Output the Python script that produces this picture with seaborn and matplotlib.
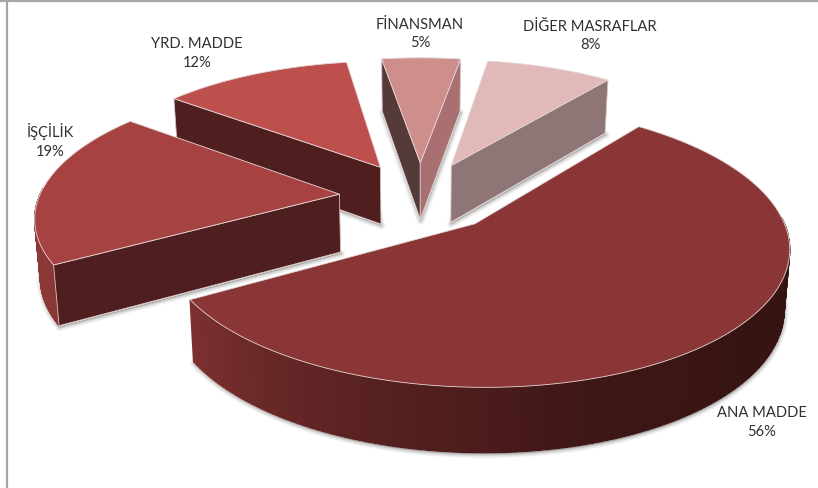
import numpy as np
import matplotlib
matplotlib.use('Agg')
import matplotlib.pyplot as plt
import seaborn as sns

# degerler
labels = ['ANA MADDE', 'İŞÇİLİK', 'YRD. MADDE', 'FİNANSMAN', 'DİĞER MASRAFLAR']
shares = [56, 19, 12, 5, 8]

# renkler
top_colors = ['#8B3636', '#A64342', '#BD4F4C', '#CD8E8C', '#E0B9B8']
wall_colors = [
    ['#7D3030', '#5A2222', '#3E1715', '#351412', '#351412'],
    ['#8F3A39', '#8A3837'],
    ['#4F1E1E', '#4F1E1E'],
    ['#553A3A', '#553A3A'],
    ['#8E7676', '#8E7676'],
]
# kesit yuzleri: baslangic ve bitis kenari
cut_colors = [
    ['#4F1E1E', '#4F1E1E'],
    ['#4F1E1E', '#4F1E1E'],
    ['#4F1E1E', '#4F1E1E'],
    ['#553A3A', '#A87070'],
    ['#8E7676', '#8E7676'],
]
label_pos = [(762, 422.5), (50, 141), (197, 53.5), (420, 34), (590, 36)]

# izdusum ayarlari (piksel)
CX, CY = 420, 196.5
RX, RY = 300, 130
PERSP = 0.15
EXPLODE = 0.27
DEPTH = 58
BOTTOM_SCALE = 0.985
START_ANGLE = 52


def project(u, v, bottom=False):
    u, v = np.asarray(u, dtype=float), np.asarray(v, dtype=float)
    denom = 1 + PERSP * v
    x = RX * u / denom
    y = CY - RY * v / denom
    if bottom:
        x = x * BOTTOM_SCALE
        y = y + DEPTH / denom ** 0.6
    return CX + x, y


def quad(ax, x1, y1, x2, y2, color, edge=None, zorder=2):
    ax.fill([x1[0], x1[1], x2[1], x2[0]], [y1[0], y1[1], y2[1], y2[0]],
            facecolor=color, edgecolor=edge if edge else color,
            linewidth=0.6 if edge else 1.0, zorder=zorder)


def draw_slice(ax, i, a0, a1):
    # a0 > a1, saat yonunde
    mid = np.radians((a0 + a1) / 2)
    ox, oy = EXPLODE * np.cos(mid), EXPLODE * np.sin(mid)
    theta = np.radians(np.linspace(a0, a1, 160))
    u = ox + np.cos(theta)
    v = oy + np.sin(theta)

    top_u = np.r_[ox, u]
    top_v = np.r_[oy, v]
    tx, ty = project(top_u, top_v)
    bx, by = project(top_u, top_v, bottom=True)

    # golge
    for lw, alpha in [(6, 0.05), (4.5, 0.07), (3, 0.10), (1.5, 0.14)]:
        ax.fill(bx + 0.5, by + 1.5, facecolor='#555555', edgecolor='#555555',
                linewidth=lw, alpha=alpha, zorder=1, joinstyle='round')
    ax.fill(bx, by, color='white', zorder=1)

    # dis duvar
    visible = np.where(np.sin(theta) < 0.05)[0]
    if len(visible) > 1:
        sx, sy = project(u, v)
        ex, ey = project(u, v, bottom=True)
        pal = sns.blend_palette(wall_colors[i], n_colors=len(visible))
        order = visible if sx[visible[0]] < sx[visible[-1]] else visible[::-1]
        for n, (j, j2) in enumerate(zip(order[:-1], order[1:])):
            quad(ax, sx[[j, j2]], sy[[j, j2]], ex[[j, j2]], ey[[j, j2]], pal[n])

    # kesit yuzleri
    for k, (angle, normal) in enumerate([(a0, a0 + 90), (a1, a1 - 90)]):
        if np.sin(np.radians(normal)) < 0:
            eu = [ox, ox + np.cos(np.radians(angle))]
            ev = [oy, oy + np.sin(np.radians(angle))]
            x1, y1 = project(eu, ev)
            x2, y2 = project(eu, ev, bottom=True)
            quad(ax, x1, y1, x2, y2, cut_colors[i][k], edge='#D8C4C4')

    # ust yuz
    ax.fill(tx, ty, facecolor=top_colors[i], edgecolor='#E6D6D6', linewidth=0.6,
            zorder=3, joinstyle='round')


def main():
    sns.set_theme(style='white')
    plt.rcParams['font.family'] = ['Lato', 'DejaVu Sans']

    fig, ax = plt.subplots(figsize=(8.18, 4.88), dpi=100)
    ax.set_position([0, 0, 1, 1])
    ax.set_xlim(0, 818)
    ax.set_ylim(488, 0)
    ax.axis('off')

    # kenar cizgileri
    ax.axvline(7, color='#A6A6A6', linewidth=1.6, zorder=0)
    ax.axhline(0.8, color='#A6A6A6', linewidth=1.6, zorder=0)

    edges = START_ANGLE - np.cumsum([0] + shares) * 3.6
    mids = (edges[:-1] + edges[1:]) / 2
    for i in np.argsort(-np.sin(np.radians(mids))):
        draw_slice(ax, i, edges[i], edges[i + 1])

    for name, share, (x, y) in zip(labels, shares, label_pos):
        ax.text(x, y, f'{name}\n{share}%', ha='center', va='center', fontsize=10.6,
                color='#303030', linespacing=1.45, zorder=5)

    plt.savefig('out.png', dpi=100)
    plt.close()


if __name__ == '__main__':
    main()
